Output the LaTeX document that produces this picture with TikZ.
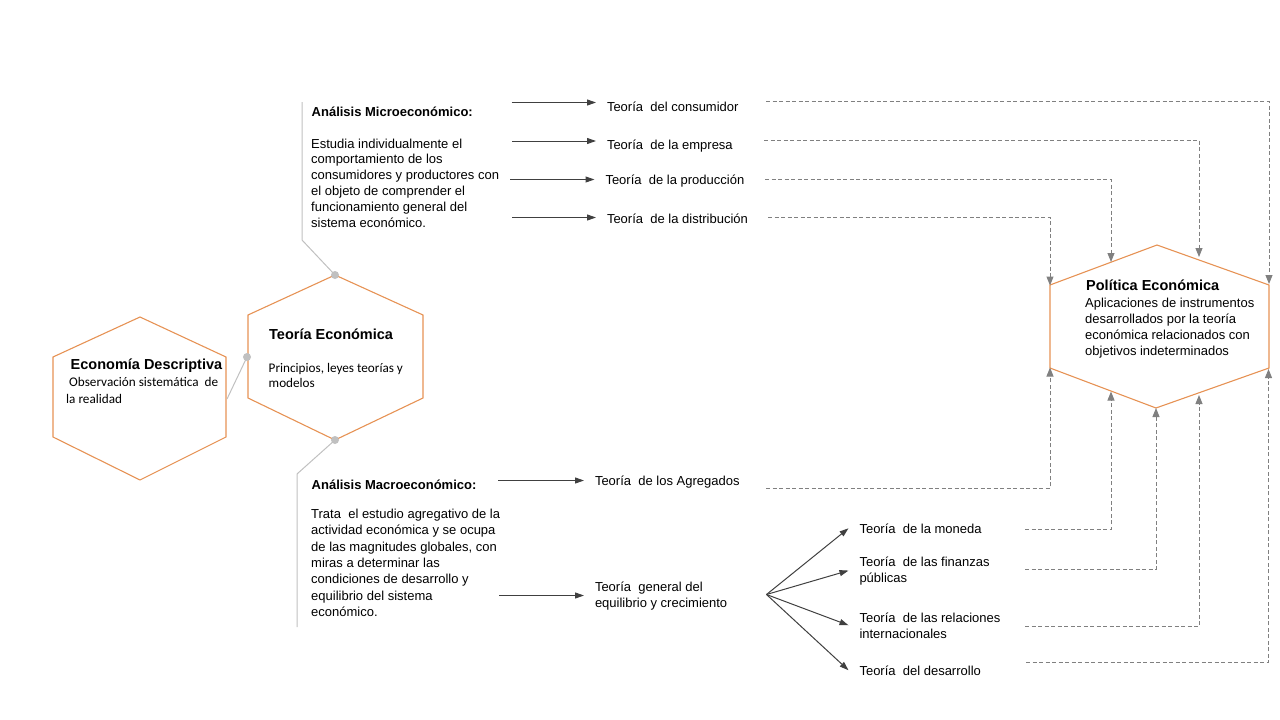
\documentclass[tikz,border=0pt]{standalone}
\usepackage{fontspec}
\setmainfont{Liberation Sans}
\newfontfamily\calibri{Carlito}
\usetikzlibrary{arrows.meta}

\definecolor{naranja}{RGB}{230,146,84}
\definecolor{grisclaro}{RGB}{192,192,192}
\definecolor{grisosc}{RGB}{64,64,64}
\definecolor{grismedio}{RGB}{128,128,128}

\begin{document}
\begin{tikzpicture}[x=1pt,y=-1pt]
  \tikzset{hexa/.style = {draw=naranja, line width=1.1pt},
    enlace/.style = {draw=grisclaro, line width=1pt},
    punto/.style = {circle, fill=grisclaro, inner sep=0pt, minimum size=8pt},
    titulo/.style = {inner sep=0pt, anchor=base west, font=\bfseries\fontsize{14.5}{17}\selectfont},
    subtitulo/.style = {inner sep=0pt, anchor=base west, font=\bfseries\fontsize{13}{16}\selectfont},
    texto/.style = {inner sep=0pt, anchor=base west, align=left, font=\fontsize{13}{16}\selectfont},
    textocal/.style = {inner sep=0pt, anchor=base west, align=left, font=\calibri\fontsize{13.2}{16}\selectfont},
    etiqueta/.style = {inner sep=0pt, outer xsep=11pt, anchor=base west, align=left, font=\fontsize{13}{16}\selectfont},
    flecha/.style = {draw=grisosc, line width=1pt, -{Triangle[length=9pt,width=6pt]}},
    punteada/.style = {draw=grismedio, line width=1pt, dash pattern=on 4pt off 2.5pt,
      -{Triangle[length=9pt,width=7pt]}}} % estilos

  \useasboundingbox (0,0) rectangle (1280,720);

  % hexagonos
  \coordinate (e1) at (140,317); \coordinate (e2) at (226,357); \coordinate (e3) at (226,437);
  \coordinate (e4) at (140,480); \coordinate (e5) at (53,437);  \coordinate (e6) at (53,357);
  \coordinate (t1) at (335,275); \coordinate (t2) at (423,315); \coordinate (t3) at (423,398);
  \coordinate (t4) at (335,440); \coordinate (t5) at (248,398); \coordinate (t6) at (248,315);
  \coordinate (p1) at (1157,245); \coordinate (p2) at (1269,285); \coordinate (p3) at (1269,368);
  \coordinate (p4) at (1156,408); \coordinate (p5) at (1050,368); \coordinate (p6) at (1050,285);
  \draw[hexa] (e1) -- (e2) -- (e3) -- (e4) -- (e5) -- (e6) -- cycle;
  \draw[hexa] (t1) -- (t2) -- (t3) -- (t4) -- (t5) -- (t6) -- cycle;
  \draw[hexa] (p1) -- (p2) -- (p3) -- (p4) -- (p5) -- (p6) -- cycle;

  % enlaces grises
  \coordinate (g1) at (302,240); \coordinate (g2) at (302,102);
  \coordinate (g3) at (297,474); \coordinate (g4) at (297,627);
  \coordinate (g5) at (227,399);
  \draw[enlace] (t1) -- (g1) -- (g2);
  \draw[enlace] (t4) -- (g3) -- (g4);
  \draw[enlace] (247,357) -- (g5);
  \node[punto] (dt) at (t1) {};
  \node[punto] (dl) at (247,357) {};
  \node[punto] (db) at (t4) {};

  % textos de los hexagonos (base = ultima linea)
  \node[titulo] (eco) at (70.5,369.5) {Economía Descriptiva};
  \node[textocal, font=\calibri\fontsize{13.2}{17}\selectfont] (ecotx) at (66,403) {\ Observación sistemática\ \ de\\la realidad};
  \node[titulo] (teo) at (269,339.5) {Teoría Económica};
  \node[textocal, font=\calibri\fontsize{13.2}{15.6}\selectfont] (teotx) at (268.5,387.6) {Principios, leyes teorías y\\modelos};
  \node[titulo] (pol) at (1086,290) {Política Económica};
  \node[texto] (poltx) at (1085,355) {Aplicaciones de instrumentos\\desarrollados por la teoría\\económica relacionados con\\objetivos indeterminados};

  % analisis
  \node[subtitulo] (micro) at (311.5,116) {Análisis Microeconómico:};
  \node[texto, font=\fontsize{13}{15.8}\selectfont] (microtx) at (311,227) {Estudia individualmente el\\comportamiento de los\\consumidores y productores con\\el objeto de comprender el\\funcionamiento general del\\sistema económico.};
  \node[subtitulo] (macro) at (311.5,489.5) {Análisis Macroeconómico:};
  \node[texto, font=\fontsize{13}{16.3}\selectfont] (macrotx) at (311,616.3) {Trata\ \ el estudio agregativo de la\\actividad económica y se ocupa\\de las magnitudes globales, con\\miras a determinar las\\condiciones de desarrollo y\\equilibrio del sistema\\económico.};

  % teorias
  \node[etiqueta] (tcons) at (596,111) {Teoría\ \ del consumidor};
  \node[etiqueta] (temp) at (596,149.5) {Teoría\ \ de la empresa};
  \node[etiqueta] (tprod) at (594.5,184.5) {Teoría\ \ de la producción};
  \node[etiqueta] (tdist) at (596,223) {Teoría\ \ de la distribución};
  \node[etiqueta] (tagr) at (584,485) {Teoría\ \ de los Agregados};
  \node[etiqueta] (tgen) at (584,607) {Teoría\ \ general del\\equilibrio y crecimiento};
  \node[etiqueta] (tmon) at (848.5,533) {Teoría\ \ de la moneda};
  \node[etiqueta] (tfin) at (848.5,582) {Teoría\ \ de las finanzas\\públicas};
  \node[etiqueta] (trel) at (848.5,638) {Teoría\ \ de las relaciones\\internacionales};
  \node[etiqueta] (tdes) at (848.5,675) {Teoría\ \ del desarrollo};

  % flechas
  \coordinate (a1) at (511.5,102.5); \coordinate (a2) at (512,141);
  \coordinate (a3) at (510,179.5);   \coordinate (a4) at (512,217.5);
  \coordinate (a5) at (498,480.5);   \coordinate (a6) at (499,595.5);
  \coordinate (abanico) at (766.5,594.5);
  \draw[flecha] (a1) -- (a1 -| tcons.west);
  \draw[flecha] (a2) -- (a2 -| temp.west);
  \draw[flecha] (a3) -- (a3 -| tprod.west);
  \draw[flecha] (a4) -- (a4 -| tdist.west);
  \draw[flecha] (a5) -- (a5 -| tagr.west);
  \draw[flecha] (a6) -- (a6 -| tgen.west);
  \draw[flecha] (abanico) -- (tmon.west);
  \draw[flecha] (abanico) -- (tfin.west);
  \draw[flecha] (abanico) -- (trel.west);
  \draw[flecha] (abanico) -- (tdes.west);

  % lineas punteadas hacia la politica
  \coordinate (c1) at (766,101.7);  \coordinate (f1) at (1269,284);
  \coordinate (c2) at (764,140);    \coordinate (f2) at (1199,257);
  \coordinate (c3) at (765,179.5);  \coordinate (f3) at (1111,262);
  \coordinate (c4) at (768,217);    \coordinate (f4) at (1050,285.5);
  \coordinate (c5) at (766,488.3);  \coordinate (f5) at (1050,367.5);
  \coordinate (c6) at (1025,529);   \coordinate (f6) at (1111,391.5);
  \coordinate (c7) at (1025,569.3); \coordinate (f7) at (1156,408);
  \coordinate (c8) at (1025,626.7); \coordinate (f8) at (1199,395);
  \coordinate (c9) at (1026,662.3); \coordinate (f9) at (1268.5,369);
  \foreach \i in {1,...,9}
    \draw[punteada] (c\i) -| (f\i);

\end{tikzpicture}
\end{document}
